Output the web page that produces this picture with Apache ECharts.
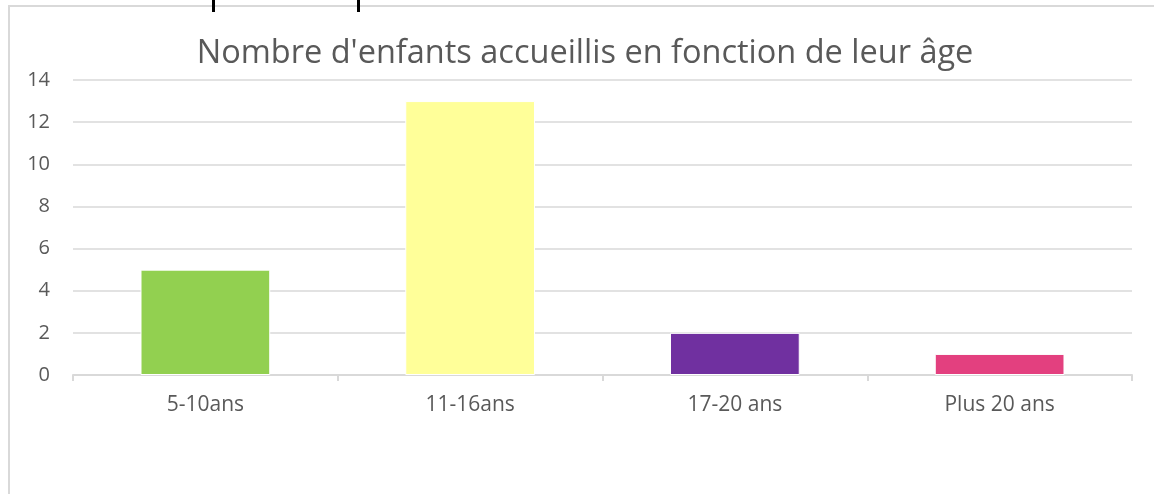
<!DOCTYPE html>
<html>
<head>
<meta charset="utf-8">
<script src="https://cdn.jsdelivr.net/npm/echarts@6/dist/echarts.min.js"></script>
<style>
  html, body { margin: 0; padding: 0; background: #fff; }
  #main { position: relative; z-index: 1; width: 1154px; height: 494px; }
  #frame { position: absolute; left: 8px; top: 5px; width: 1160px; height: 500px;
           border-left: 2px solid #d9d9d9; border-top: 2px solid #d9d9d9; pointer-events: none; }
</style>
</head>
<body>
<div id="frame"></div>
<div id="main"></div>
<script>
var titleText = "Nombre d'enfants accueillis en fonction de leur âge";
var categories = ['5-10ans', '11-16ans', '17-20 ans', 'Plus 20 ans'];
var counts = [5, 13, 2, 1];
var barColors = ['#92D050', '#FFFF99', '#7030A0', '#E3407F'];

var myChart = echarts.init(document.getElementById('main'));

var option = {
    animation: false,
    title: {
        text: titleText,
        left: 580,
        textAlign: 'center',
        top: 32,
        textStyle: { color: '#595959', fontSize: 32.5, fontWeight: 'normal', fontFamily: 'Open Sans' }
    },
    grid: { left: 73, right: 22, top: 80, bottom: 119 },
    xAxis: {
        type: 'category',
        data: categories,
        axisLine: { lineStyle: { color: '#d9d9d9', width: 2 } },
        axisTick: { show: true, length: 6, lineStyle: { color: '#d9d9d9', width: 2 } },
        axisLabel: { color: '#595959', fontSize: 21, fontFamily: 'Open Sans', margin: 20 }
    },
    yAxis: {
        type: 'value',
        min: 0,
        max: 14,
        interval: 2,
        axisLine: { show: false },
        axisTick: { show: false },
        splitLine: { lineStyle: { color: '#d9d9d9', width: 1.5 } },
        axisLabel: { color: '#595959', fontSize: 20, fontFamily: 'Open Sans', margin: 23 }
    },
    series: [{
        type: 'bar',
        barWidth: '49%',
        data: counts.map(function (v, i) {
            return { value: v, itemStyle: { color: barColors[i], borderColor: '#fff', borderWidth: 1 } };
        })
    }],
    graphic: [
        { type: 'rect', shape: { x: 212, y: 0, width: 3, height: 12 }, style: { fill: '#000' } },
        { type: 'rect', shape: { x: 357, y: 0, width: 3, height: 12 }, style: { fill: '#000' } }
    ]
};

myChart.setOption(option);
</script>
</body>
</html>
